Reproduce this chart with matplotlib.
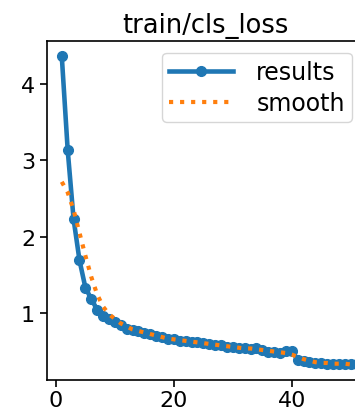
import matplotlib
matplotlib.use("Agg")
import matplotlib.pyplot as plt

# epoch index and the loss values
epochs = list(range(1, 53))
results = [4.37, 3.14, 2.23, 1.69, 1.33, 1.18, 1.04, 0.96, 0.92, 0.88,
           0.84, 0.79, 0.77, 0.76, 0.74, 0.72, 0.70, 0.68, 0.66, 0.65,
           0.63, 0.63, 0.61, 0.61, 0.60, 0.59, 0.58, 0.57, 0.55, 0.55,
           0.54, 0.53, 0.52, 0.53, 0.51, 0.49, 0.49, 0.47, 0.50, 0.50,
           0.38, 0.37, 0.35, 0.34, 0.34, 0.33, 0.33, 0.33, 0.33, 0.32,
           0.32, 0.32]
smooth = [2.72, 2.58, 2.35, 2.05, 1.75, 1.47, 1.24, 1.08, 0.98, 0.92,
          0.86, 0.82, 0.78, 0.76, 0.74, 0.72, 0.70, 0.68, 0.66, 0.65,
          0.64, 0.63, 0.62, 0.61, 0.60, 0.59, 0.58, 0.57, 0.56, 0.55,
          0.54, 0.53, 0.53, 0.52, 0.51, 0.50, 0.49, 0.48, 0.47, 0.45,
          0.42, 0.39, 0.37, 0.35, 0.34, 0.34, 0.33, 0.33, 0.33, 0.32,
          0.32, 0.32]

plt.rcParams['font.family'] = 'DejaVu Sans'
fig = plt.figure(figsize=(3.55, 4.14), dpi=100)
# axes run a little past the right edge of the picture (cropped panel)
ax = fig.add_axes([0.132, 0.080, 0.896, 0.819])

ax.plot(epochs, results, marker='.', label='results', linewidth=3.3, markersize=14)
ax.plot(epochs, smooth, ':', label='smooth', linewidth=3)
ax.set_title('train/cls_loss', fontsize=18.5, pad=6)
ax.tick_params(labelsize=16, length=5, width=1.2)
ax.tick_params(axis='x', pad=2)
for sp in ax.spines.values():
    sp.set_linewidth(1.2)
ax.set_yticks([1, 2, 3, 4])
ax.set_xlim(-1.53, 52.4)
ax.legend(fontsize=17, loc='upper right', bbox_to_anchor=(0.959, 0.965),
          borderaxespad=0, handlelength=2.7, handletextpad=1.0,
          labelspacing=0.3, borderpad=0.3)

fig.savefig('out.png', dpi=100)
